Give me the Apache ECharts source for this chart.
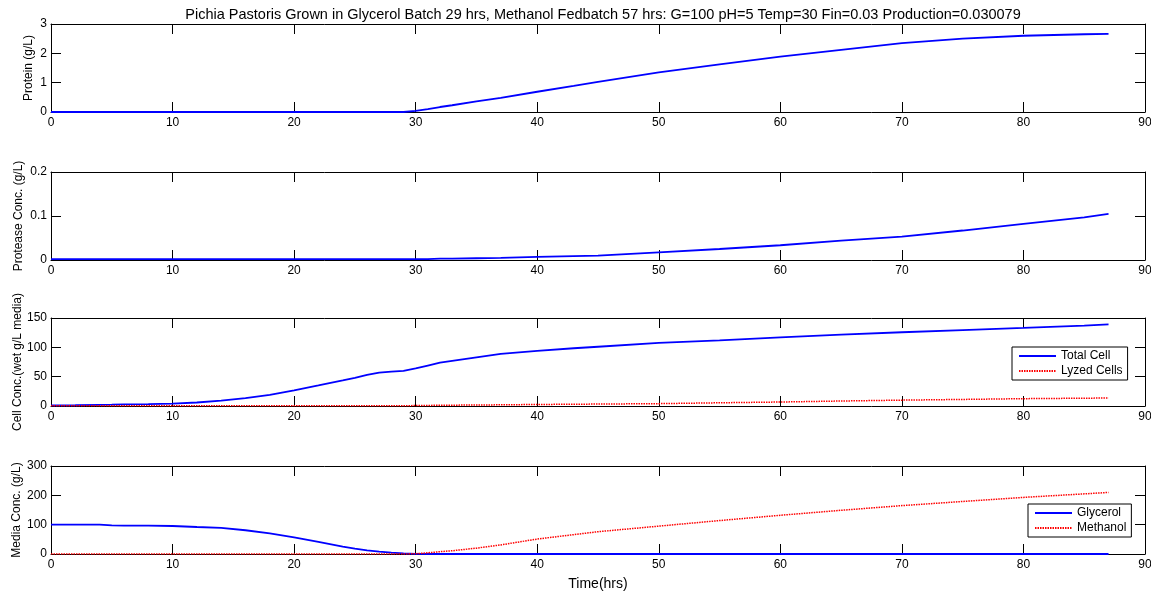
<!DOCTYPE html>
<html>
<head>
<meta charset="utf-8">
<script src="https://cdn.jsdelivr.net/npm/echarts@6/dist/echarts.min.js"></script>
<style>html,body{margin:0;padding:0;background:#fff}#c{width:1151px;height:592px}</style>
</head>
<body>
<div id="c"></div>
<script>
const titleText = 'Pichia Pastoris Grown in Glycerol Batch 29 hrs, Methanol Fedbatch 57 hrs: G=100 pH=5 Temp=30 Fin=0.03 Production=0.030079';
const times     = [0, 2, 4, 5, 6, 8, 10, 12, 14, 16, 18, 20, 22, 24, 25, 26, 27, 28, 29, 30, 31, 32, 33, 35, 37, 40, 43, 45, 50, 55, 60, 65, 70, 75, 80, 85, 87];
const protein   = [0, 0, 0, 0, 0, 0, 0, 0, 0, 0, 0, 0, 0, 0, 0, 0, 0, 0, 0, 0.04, 0.1, 0.17, 0.23, 0.36, 0.48, 0.69, 0.89, 1.03, 1.35, 1.62, 1.89, 2.12, 2.35, 2.5, 2.6, 2.65, 2.66];
const protease  = [0.002, 0.002, 0.002, 0.002, 0.002, 0.002, 0.002, 0.002, 0.002, 0.002, 0.002, 0.002, 0.002, 0.002, 0.002, 0.002, 0.002, 0.002, 0.002, 0.002, 0.002, 0.003, 0.003, 0.004, 0.005, 0.007, 0.009, 0.01, 0.0175, 0.025, 0.0335, 0.044, 0.053, 0.067, 0.082, 0.097, 0.105];
const totalCell = [1, 1.3, 2, 2.3, 2.7, 3.3, 4, 6, 9, 13.5, 19, 26.7, 35, 43.5, 48, 53, 57, 58.5, 60, 64, 69, 74, 77, 83, 89, 94, 98.4, 101, 107.6, 112, 117, 121.5, 125.7, 129.5, 133, 137, 139];
const lyzedCell = [0.3, 0.3, 0.3, 0.3, 0.3, 0.3, 0.3, 0.3, 0.3, 0.3, 0.3, 0.3, 0.3, 0.3, 0.3, 0.3, 0.3, 0.3, 0.5, 0.7, 1, 1.2, 1.4, 1.7, 2.0, 2.6, 3.0, 3.3, 4, 5.5, 6.8, 8.5, 10, 11.2, 12.5, 13.3, 13.6];
const glycerol  = [100, 100, 100, 97.5, 97, 97, 95.5, 92, 89, 81, 70, 57, 41, 25, 18, 12.5, 8, 4.6, 2.3, 0.3, 0, 0, 0, 0, 0, 0, 0, 0, 0, 0, 0, 0, 0, 0, 0, 0, 0];
const methanol  = [0, 0, 0, 0, 0, 0, 0, 0, 0, 0, 0, 0, 0, 0, 0, 0, 0, 0, 0, 1, 4, 8, 11, 20, 31, 51, 66, 76, 95, 114, 132, 149, 165, 179, 193, 205, 210];
const xTicks = [0, 90, 10];
const yNames = ['Protein (g/L)', 'Protease Conc. (g/L)', 'Cell Conc.(wet g/L media)', 'Media Conc. (g/L)'];
const yRanges = [[0, 3, 1], [0, 0.2, 0.1], [0, 150, 50], [0, 300, 100]];
</script>
<script>
const yNameGaps = [16, 26, 27, 28];
const tops = [24, 172, 318, 466];
const H = 88, L = 51, W = 1094;
const font = 'Arial, "Liberation Sans", Helvetica, sans-serif';

const grids = [], xAxes = [], yAxes = [];
const axLine = {show: true, onZero: false, lineStyle: {color: '#000', width: 1}};
const tick = {show: true, inside: true, length: 10, lineStyle: {color: '#000', width: 1}};
for (let i = 0; i < 4; i++) {
  grids.push({left: L, top: tops[i], width: W, height: H, containLabel: false, outerBoundsMode: 'none'});
  xAxes.push({type: 'value', gridIndex: i, position: 'bottom', min: xTicks[0], max: xTicks[1], interval: xTicks[2],
    axisLine: axLine, axisTick: tick,
    axisLabel: {color: '#000', fontSize: 12, fontFamily: font, margin: 5},
    splitLine: {show: false},
    name: i === 3 ? 'Time(hrs)' : '', nameLocation: 'middle', nameGap: 23, nameMoveOverlap: false,
    nameTextStyle: {color: '#000', fontSize: 14, fontFamily: font}});
  xAxes.push({type: 'value', gridIndex: i, position: 'top', min: xTicks[0], max: xTicks[1], interval: xTicks[2],
    axisLine: axLine, axisTick: tick,
    axisLabel: {show: false}, splitLine: {show: false}});
  yAxes.push({type: 'value', gridIndex: i, position: 'left', min: yRanges[i][0], max: yRanges[i][1], interval: yRanges[i][2],
    axisLine: axLine, axisTick: tick,
    axisLabel: {color: '#000', fontSize: 12, fontFamily: font, margin: 4},
    splitLine: {show: false},
    name: yNames[i], nameLocation: 'middle', nameGap: yNameGaps[i], nameMoveOverlap: false,
    nameTextStyle: {color: '#000', fontSize: 12, fontFamily: font}});
  yAxes.push({type: 'value', gridIndex: i, position: 'right', min: yRanges[i][0], max: yRanges[i][1], interval: yRanges[i][2],
    axisLine: axLine, axisTick: tick,
    axisLabel: {show: false}, splitLine: {show: false}});
}

const pairs = arr => times.map((t, k) => [t, arr[k]]);
const mk = (name, arr, gi, color, dotted) => ({
  name, type: 'line', xAxisIndex: gi * 2, yAxisIndex: gi * 2, data: pairs(arr),
  showSymbol: false, symbol: 'none', animation: false, smooth: false,
  lineStyle: {color, width: dotted ? 1.5 : 1.8, type: dotted ? [1.5, 1] : 'solid'},
  itemStyle: {color}
});

const legendBase = {orient: 'vertical', borderColor: '#000', borderWidth: 1, backgroundColor: '#fff',
  padding: [3, 5, 3, 6], itemWidth: 37, itemHeight: 14, itemGap: 3, selectedMode: false,
  itemStyle: {opacity: 0},
  textStyle: {color: '#000', fontSize: 12, fontFamily: font}};

const option = {
  animation: false,
  title: {text: titleText, left: 598, top: 2, textAlign: 'center',
    textStyle: {color: '#000', fontSize: 14.5, fontWeight: 'normal', fontFamily: font}},
  grid: grids, xAxis: xAxes, yAxis: yAxes,
  legend: [
    Object.assign({}, legendBase, {data: ['Total Cell', 'Lyzed Cells'], left: 1012, top: 347}),
    Object.assign({}, legendBase, {data: ['Glycerol', 'Methanol'], left: 1028, top: 504})
  ],
  series: [
    mk('Protein', protein, 0, '#0000ff', false),
    mk('Protease', protease, 1, '#0000ff', false),
    mk('Total Cell', totalCell, 2, '#0000ff', false),
    mk('Lyzed Cells', lyzedCell, 2, '#ff0000', true),
    mk('Glycerol', glycerol, 3, '#0000ff', false),
    mk('Methanol', methanol, 3, '#ff0000', true)
  ]
};
echarts.init(document.getElementById('c'), null, {renderer: 'canvas'}).setOption(option);
</script>
</body>
</html>
